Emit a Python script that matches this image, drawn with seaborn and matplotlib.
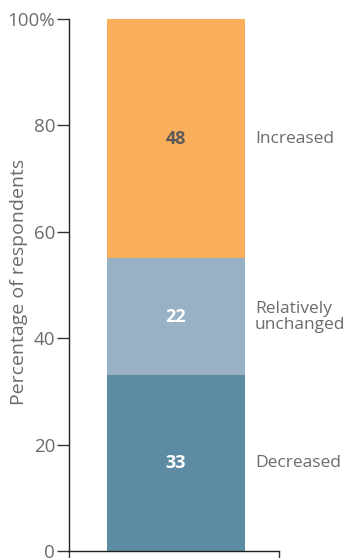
import matplotlib
matplotlib.use("Agg")
import matplotlib.pyplot as plt
import seaborn as sns
import pandas as pd

# Survey responses: share of respondents by reported change
categories = ["Decreased", "Relatively unchanged", "Increased"]
values = [33, 22, 48]
legend_labels = ["Decreased", "Relatively\nunchanged", "Increased"]
colors = ["#5e8ba4", "#98b1c4", "#f8ae5a"]
value_colors = ["white", "white", "#5a5a5a"]
y_ticks = [0, 20, 40, 60, 80, 100]
y_tick_labels = ["0", "20", "40", "60", "80", "100%"]

sns.set_style("white")
plt.rcParams["font.family"] = ["Open Sans", "DejaVu Sans"]

fig = plt.figure(figsize=(3.47, 5.58), dpi=100)
ax = fig.add_axes([69 / 347, 7 / 558, 210 / 347, 532 / 558])

grey = "#6b6b6b"
bottom = 0
for cat, val, col, lab, vcol in zip(categories, values, colors, legend_labels, value_colors):
    df = pd.DataFrame({"group": ["all"], "share": [val]})
    sns.barplot(data=df, x="group", y="share", bottom=bottom, color=col,
                saturation=1, width=1.0, ax=ax, linewidth=0)
    top = min(bottom + val, 100)
    mid = (bottom + top) / 2
    ax.text(0, mid, f"{val}", ha="center", va="center", color=vcol,
            fontsize=13, fontweight="bold")
    ax.text(0.57, mid, lab, ha="left", va="center", color=grey,
            fontsize=12.5, linespacing=1.05, clip_on=False)
    bottom += val

ax.set_ylim(0, 100)
ax.set_xlim(-0.775, 0.745)
ax.set_yticks(y_ticks)
ax.set_yticklabels(y_tick_labels, color=grey, fontsize=13.5)
ax.set_xticks([-0.775, 0.745])
ax.set_xticklabels(["", ""])
ax.tick_params(axis="y", direction="out", length=9, width=1, color="#333333", pad=1, left=True)
ax.tick_params(axis="x", direction="out", length=6, width=1, color="#333333", bottom=True)
ax.set_xlabel("")
ax.set_ylabel("Percentage of respondents", color=grey, fontsize=14)
ax.yaxis.set_label_coords(-41 / 210, 0.505)

for side in ["top", "right"]:
    ax.spines[side].set_visible(False)
for side in ["left", "bottom"]:
    ax.spines[side].set_color("#222222")
    ax.spines[side].set_linewidth(1)

fig.savefig("out.png", dpi=100)
